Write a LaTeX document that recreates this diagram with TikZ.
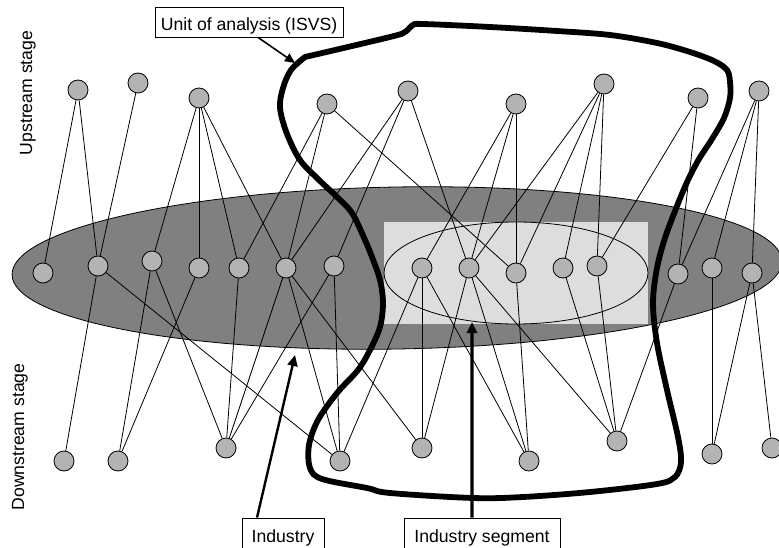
\documentclass[tikz,border=0pt]{standalone}
\usepackage{fontspec}
\setmainfont{Liberation Sans}
\usepackage{tikz}
\usetikzlibrary{arrows.meta}
\definecolor{industry}{HTML}{808080}
\definecolor{segment}{HTML}{DDDDDD}
\definecolor{firm}{HTML}{B3B3B3}
\tikzstyle{vertex}=[circle,draw,fill=firm,minimum size=20bp,inner sep=0pt,line width=0.8bp]
\tikzstyle{edge} = [draw,line width=0.8bp,-]
\tikzstyle{label box} = [draw,line width=0.8bp,fill=white,minimum height=30bp,inner sep=0pt,text height=20bp,text depth=3bp]
\tikzstyle{isvs line} = [draw,line width=5.8bp,line join=round,line cap=round]
\tikzstyle{pointer} = [draw,-{Triangle[length=11bp,width=10bp]}]

\begin{document}
\begin{tikzpicture}[x=1bp,y=-1bp,font=\fontsize{17.7}{21}\selectfont]
        \useasboundingbox (0,0) rectangle (779,548);
        \draw[fill=industry,line width=0.8bp,rotate around={1:(397,268)}] (397,268) ellipse [x radius=385,y radius=81];
        \fill[segment] (384,222) rectangle (648,324);
        \draw[fill=segment,line width=0.8bp] (516,273) ellipse [x radius=132,y radius=51];
        % upstream stage
        \node[vertex] (u1) at (78,90) {};
        \node[vertex] (u2) at (138,83) {};
        \node[vertex] (u3) at (199,98) {};
        \node[vertex] (u4) at (327,104) {};
        \node[vertex] (u5) at (408,91) {};
        \node[vertex] (u6) at (516,104) {};
        \node[vertex] (u7) at (604,84) {};
        \node[vertex] (u8) at (698,98) {};
        \node[vertex] (u9) at (759,91) {};
        % industry
        \node[vertex] (m1) at (43,273) {};
        \node[vertex] (m2) at (98,266) {};
        \node[vertex] (m3) at (152,261) {};
        \node[vertex] (m4) at (199,268) {};
        \node[vertex] (m5) at (239,268) {};
        \node[vertex] (m6) at (286,268) {};
        \node[vertex] (m7) at (334,266) {};
        \node[vertex] (m8) at (422,268) {};
        \node[vertex] (m9) at (469,268) {};
        \node[vertex] (m10) at (516,273) {};
        \node[vertex] (m11) at (563,268) {};
        \node[vertex] (m12) at (597,266) {};
        \node[vertex] (m13) at (678,274) {};
        \node[vertex] (m14) at (712,268) {};
        \node[vertex] (m15) at (752,273) {};
        % downstream stage
        \node[vertex] (d1) at (64,461) {};
        \node[vertex] (d2) at (118,461) {};
        \node[vertex] (d3) at (226,448) {};
        \node[vertex] (d4) at (340,461) {};
        \node[vertex] (d5) at (422,448) {};
        \node[vertex] (d6) at (529,461) {};
        \node[vertex] (d7) at (617,441) {};
        \node[vertex] (d8) at (712,454) {};
        \node[vertex] (d9) at (772,448) {};
        \draw[edge] (u1) to (m1);
        \draw[edge] (u1) to (m2);
        \draw[edge] (u2) to (m2);
        \draw[edge] (u3) to (m3);
        \draw[edge] (u3) to (m4);
        \draw[edge] (u3) to (m5);
        \draw[edge] (u3) to (m6);
        \draw[edge] (u4) to (m5);
        \draw[edge] (u4) to (m6);
        \draw[edge] (u4) to (m10);
        \draw[edge] (u5) to (m6);
        \draw[edge] (u5) to (m7);
        \draw[edge] (u5) to (m9);
        \draw[edge] (u6) to (m8);
        \draw[edge] (u6) to (m9);
        \draw[edge] (u6) to (m10);
        \draw[edge] (u7) to (m9);
        \draw[edge] (u7) to (m10);
        \draw[edge] (u7) to (m11);
        \draw[edge] (u7) to (m12);
        \draw[edge] (u8) to (m12);
        \draw[edge] (u8) to (m13);
        \draw[edge] (u9) to (m13);
        \draw[edge] (u9) to (m14);
        \draw[edge] (u9) to (m15);
        \draw[edge] (m2) to (d1);
        \draw[edge] (m2) to (d4);
        \draw[edge] (m3) to (d2);
        \draw[edge] (m3) to (d3);
        \draw[edge] (m4) to (d2);
        \draw[edge] (m5) to (d3);
        \draw[edge] (m6) to (d3);
        \draw[edge] (m6) to (d4);
        \draw[edge] (m6) to (d5);
        \draw[edge] (m7) to (d3);
        \draw[edge] (m7) to (d4);
        \draw[edge] (m8) to (d4);
        \draw[edge] (m8) to (d5);
        \draw[edge] (m8) to (d6);
        \draw[edge] (m9) to (d5);
        \draw[edge] (m9) to (d6);
        \draw[edge] (m9) to (d7);
        \draw[edge] (m10) to (d6);
        \draw[edge] (m11) to (d7);
        \draw[edge] (m12) to (d7);
        \draw[edge] (m13) to (d7);
        \draw[edge] (m14) to (d8);
        \draw[edge] (m15) to (d8);
        \draw[edge] (m15) to (d9);
        % unit of analysis
        \draw[isvs line] plot[smooth,tension=0.55] coordinates {(305,57) (390,37) (405,32) (413,25) (423,24) (490,27) (557,31) (610,35) (657,43) (690,52) (714,61) (727,70) (730,82) (730,98) (724,118) (712,139) (699,159) (688,180) (677,206) (665,238) (657,268) (653,303) (657,343) (667,390) (678,437) (681,462) (675,477) (657,484) (590,492) (523,497) (473,498) (390,493) (367,488) (322,479) (310,468) (309,445) (318,420) (337,393) (358,370) (370,350) (380,327) (383,303) (380,280) (372,257) (365,240) (352,213) (336,196) (318,179) (300,160) (287,134) (280,108) (283,88) (291,70) (305,57)};
        \coordinate (isvs tip) at (295,63);
        \coordinate (industry tip) at (295,355);
        \coordinate (segment tip) at (472,322);
        \node[label box,minimum width=188bp] (unit) at (249,22) {Unit of analysis (ISVS)};
        \node[label box,minimum width=82bp,minimum height=32bp] (ind) at (283,534) {Industry};
        \node[label box,minimum width=156bp,minimum height=32bp] (seg) at (482,534) {Industry segment};
        \node[rotate=90] (upstream) at (28,93) {Upstream stage};
        \node[rotate=90] (downstream) at (20,437) {Downstream stage};
        \draw[pointer,line width=1.6bp,-{Triangle[length=10bp,width=9bp]}] ([xshift=9bp]unit.south) to (isvs tip);
        \draw[pointer,line width=2.4bp] ([xshift=-26bp]ind.north) to (industry tip);
        \draw[pointer,line width=3.4bp] ([xshift=-10bp]seg.north) to (segment tip);
      \end{tikzpicture}
\end{document}
